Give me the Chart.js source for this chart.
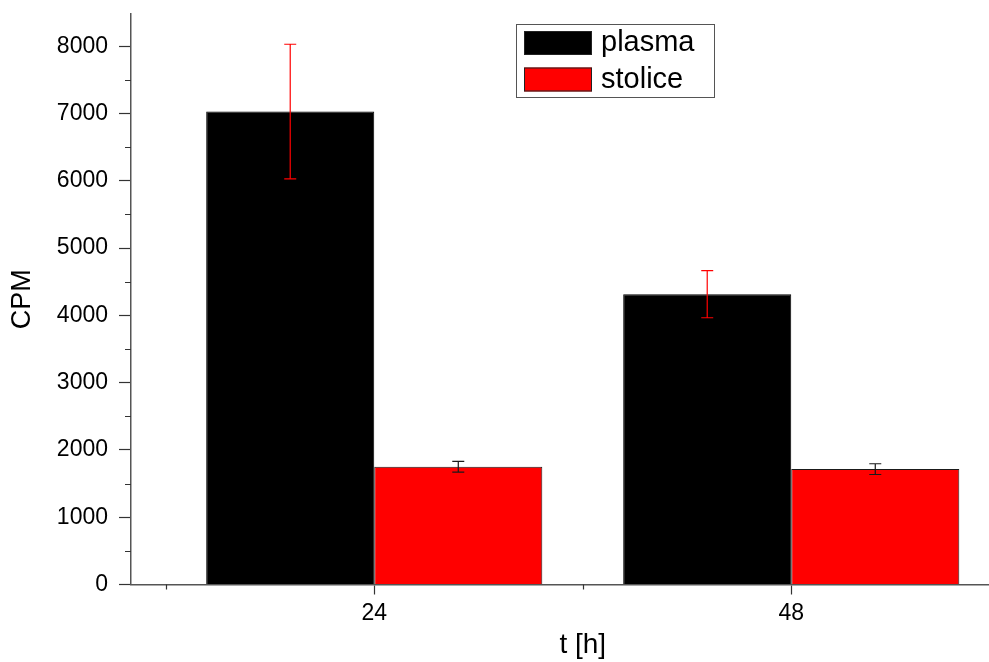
<!DOCTYPE html>
<html>
<head>
<meta charset="utf-8">
<script src="https://cdn.jsdelivr.net/npm/chart.js@4.4.1/dist/chart.umd.min.js"></script>
<style>
html,body{margin:0;padding:0;background:#fff;overflow:hidden}
#wrap{width:989px;height:662px;position:relative;overflow:hidden}
canvas{display:block}
</style>
</head>
<body>
<div id="wrap"><canvas id="c" width="1035" height="662"></canvas></div>
<script>
// ---- data ----
const categories = [24, 48];
const seriesNames = ['plasma', 'stolice'];
const plasmaValues = [7030, 4315];
const plasmaErrors = [1000, 350];
const stoliceValues = [1750, 1715];
const stoliceErrors = [80, 80];
const yMajorTicks = [0, 1000, 2000, 3000, 4000, 5000, 6000, 7000, 8000];
const yMinorTicks = [500, 1500, 2500, 3500, 4500, 5500, 6500, 7500];
const xMinorTicks = [12, 36, 60];
const xTitle = 't [h]';
const yTitle = 'CPM';

const FONT = '"Liberation Sans", Arial, Helvetica, sans-serif';

const errorBarsPlugin = {
  id: 'errorBars',
  afterDatasetsDraw(chart) {
    const ctx = chart.ctx;
    const yScale = chart.scales.y;
    chart.data.datasets.forEach((ds, di) => {
      const meta = chart.getDatasetMeta(di);
      ctx.save();
      ctx.strokeStyle = ds.errorColor;
      ctx.lineWidth = 1.2;
      meta.data.forEach((bar, i) => {
        const v = ds.data[i].y, e = ds.errors[i];
        const yt = yScale.getPixelForValue(v + e);
        const yb = yScale.getPixelForValue(v - e);
        const x = bar.x;
        ctx.beginPath();
        ctx.moveTo(x, yt); ctx.lineTo(x, yb);
        ctx.moveTo(x - 6, yt); ctx.lineTo(x + 6, yt);
        ctx.moveTo(x - 6, yb); ctx.lineTo(x + 6, yb);
        ctx.stroke();
      });
      ctx.restore();
    });
  }
};

const minorTicksPlugin = {
  id: 'minorTicks',
  afterDraw(chart) {
    const ctx = chart.ctx;
    const {x: xs, y: ys} = chart.scales;
    const area = chart.chartArea;
    ctx.save();
    ctx.strokeStyle = '#333';
    ctx.lineWidth = 1.2;
    ctx.beginPath();
    yMinorTicks.forEach(v => {
      const py = Math.round(ys.getPixelForValue(v)) + 0.5;
      ctx.moveTo(area.left - 6, py); ctx.lineTo(area.left, py);
    });
    xMinorTicks.forEach(v => {
      const px = Math.round(xs.getPixelForValue(v)) + 0.5;
      if (px > area.right) return;
      ctx.moveTo(px, area.bottom); ctx.lineTo(px, area.bottom + 5);
    });
    ctx.stroke();
    ctx.restore();
  }
};

const boxLegendPlugin = {
  id: 'boxLegend',
  afterDraw(chart) {
    const ctx = chart.ctx;
    const bx = 516, by = 24, bw = 198, bh = 73;
    ctx.save();
    ctx.fillStyle = '#fff';
    ctx.fillRect(bx, by, bw, bh);
    ctx.strokeStyle = '#555';
    ctx.lineWidth = 1;
    ctx.strokeRect(bx + 0.5, by + 0.5, bw, bh);
    chart.data.datasets.forEach((ds, i) => {
      const sy = 31 + i * 36.5;
      ctx.fillStyle = ds.backgroundColor;
      ctx.fillRect(524, sy, 68, 24);
      ctx.strokeStyle = '#222';
      ctx.strokeRect(524.5, sy + 0.5, 67, 23);
      ctx.fillStyle = '#000';
      ctx.font = '29px ' + FONT;
      ctx.textBaseline = 'middle';
      ctx.textAlign = 'left';
      ctx.fillText(ds.label, 601, sy + 12);
    });
    ctx.restore();
  }
};

new Chart(document.getElementById('c'), {
  type: 'bar',
  data: {
    datasets: [
      {
        label: seriesNames[0],
        data: categories.map((c, i) => ({x: c, y: plasmaValues[i]})),
        errors: plasmaErrors,
        errorColor: '#ff0000',
        backgroundColor: '#000000',
        borderColor: '#000000',
        borderWidth: 1
      },
      {
        label: seriesNames[1],
        data: categories.map((c, i) => ({x: c, y: stoliceValues[i]})),
        errors: stoliceErrors,
        errorColor: '#1a1a1a',
        backgroundColor: '#ff0000',
        borderColor: '#1a1a1a',
        borderWidth: 1
      }
    ]
  },
  options: {
    responsive: false,
    devicePixelRatio: 1,
    animation: false,
    categoryPercentage: 0.806,
    barPercentage: 1.0,
    layout: {padding: {top: 14, left: 0, right: 0.5, bottom: 0}},
    plugins: {legend: {display: false}, tooltip: {enabled: false}},
    scales: {
      x: {
        type: 'linear',
        offset: false,
        min: 10,
        max: 62,
        afterBuildTicks: s => { s.ticks = categories.map(v => ({value: v})); },
        afterFit: s => { s.height = 77.5; s.paddingLeft = 0; s.paddingRight = 0; },
        ticks: {
          color: '#000',
          font: {family: FONT, size: 23},
          padding: 5,
          maxRotation: 0,
          callback: v => String(v)
        },
        grid: {offset: false, drawOnChartArea: false, drawTicks: true, tickLength: 10, tickColor: '#333', tickWidth: 1.2},
        border: {color: '#555', width: 1.5},
        title: {display: true, text: xTitle, color: '#000', font: {family: FONT, size: 28}, padding: {top: 0, bottom: 0}}
      },
      y: {
        min: 0,
        max: 8480,
        afterBuildTicks: s => { s.ticks = yMajorTicks.map(v => ({value: v})); },
        afterFit: s => { s.width = 131; s.paddingTop = 0; s.paddingBottom = 0; },
        ticks: {
          color: '#000',
          font: {family: FONT, size: 23},
          padding: 11,
          callback: v => String(v)
        },
        grid: {drawOnChartArea: false, drawTicks: true, tickLength: 12, tickColor: '#333', tickWidth: 1.2},
        border: {color: '#555', width: 1.5},
        title: {display: true, text: yTitle, color: '#000', font: {family: FONT, size: 27}, padding: {top: 6, bottom: 0}}
      }
    }
  },
  plugins: [errorBarsPlugin, minorTicksPlugin, boxLegendPlugin]
});
</script>
</body>
</html>
